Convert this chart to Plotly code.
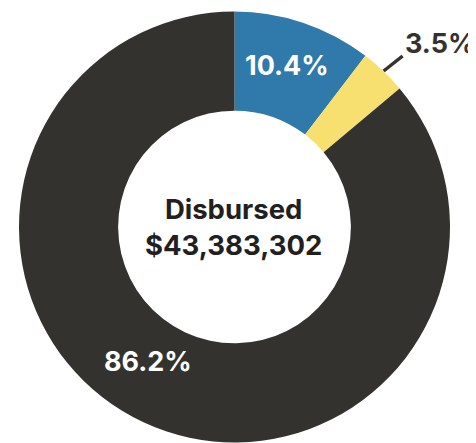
import plotly.graph_objects as go

categories = ["Category A", "Category B", "Category C"]
shares = [10.4, 3.5, 86.2]
share_labels = ["10.4%", "3.5%", "86.2%"]
colors = ["#2F79AB", "#F7E06F", "#34322E"]
center_title = "Disbursed"
center_amount = "$43,383,302"

# page has an 8px body margin; figure sized so it fits the window
OFF = 8
W, H = 468, 435
L, R, T, B = 10.5, 25.5, 3, 0
PW, PH = W - L - R, H - T - B


def px(x, y):
    # page pixel -> paper fraction
    return (x - OFF - L) / PW, 1 - (y - OFF - T) / PH


FONT = "Inter"
DARK = "#34322E"

fig = go.Figure(
    go.Pie(
        labels=categories,
        values=shares,
        hole=0.54,
        sort=False,
        direction="clockwise",
        rotation=0,
        marker=dict(colors=colors, line=dict(width=0)),
        textinfo="none",
        hoverinfo="skip",
        showlegend=False,
    )
)


def ann(txt, pos, color, size=26):
    x, y = px(*pos)
    return dict(x=x, y=y, xref="paper", yref="paper", text=txt, showarrow=False,
                xanchor="center", yanchor="middle",
                font=dict(family=FONT, size=size, color=color, weight=700))


annotations = [
    ann(share_labels[0], (287.5, 65), "white", 27),
    ann(share_labels[2], (147.5, 361), "white", 27),
    ann(share_labels[1], (440, 44), DARK, 27),
    ann(center_title + "<br>" + center_amount, (233, 227), "#231F20", 27.5),
]

x0, y0 = px(384, 71)
x1, y1 = px(403, 56)
shapes = [dict(type="line", xref="paper", yref="paper", x0=x0, y0=y0, x1=x1, y1=y1,
               line=dict(color=DARK, width=3.5))]

fig.update_layout(
    width=W, height=H,
    margin=dict(l=L, r=R, t=T, b=B),
    paper_bgcolor="white", plot_bgcolor="white",
    annotations=annotations, shapes=shapes,
)

fig.write_html("out.html")
